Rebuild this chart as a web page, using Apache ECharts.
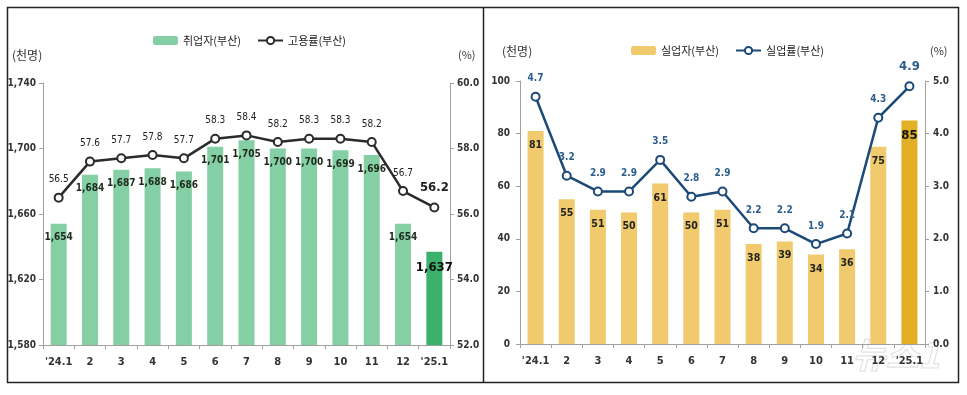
<!DOCTYPE html>
<html><head><meta charset="utf-8">
<script src="https://cdn.jsdelivr.net/npm/echarts@6/dist/echarts.min.js"></script>
<style>html,body{margin:0;padding:0;background:#fff}#c{width:967px;height:395px}</style>
</head><body><div id="c"></div>
<script>
const categories = ["'24.1","2","3","4","5","6","7","8","9","10","11","12","'25.1"];
const employed = [1654,1684,1687,1688,1686,1701,1705,1700,1700,1699,1696,1654,1637];
const employmentRate = [56.5,57.6,57.7,57.8,57.7,58.3,58.4,58.2,58.3,58.3,58.2,56.7,56.2];
const unemployed = [81,55,51,50,61,50,51,38,39,34,36,75,85];
const unemploymentRate = [4.7,3.2,2.9,2.9,3.5,2.8,2.9,2.2,2.2,1.9,2.1,4.3,4.9];

const FONT = "'DejaVu Sans Condensed','Noto Sans CJK KR',sans-serif";
const KFONT = "'Noto Sans CJK KR',sans-serif";
const last = categories.length - 1;
const fmtComma = v => String(v).replace(/\B(?=(\d{3})+(?!\d))/g, ',');

const greenBar = '#84cfa3', greenLast = '#3bb26c';
const yellowBar = '#f0ca6c', yellowLast = '#e2b024';
const blueLine = '#1b4a78', blueLabel = '#2c5d8c';

function barData(vals, cl, fmt) {
  return vals.map((v, i) => i === last ? {
    value: v, itemStyle: {color: cl},
    label: {fontSize: 13, fontWeight: 'bold', distance: 9, formatter: p => fmt(p.value), color: '#111'}
  } : v);
}
function lineData(vals, color) {
  return vals.map((v, i) => i === last ? {
    value: v, label: {fontSize: 13, fontWeight: 'bold', color: color}
  } : v);
}
const axisLabelStyle = {fontFamily: FONT, fontSize: 10, color: '#333', fontWeight: 'bold'};
const xLabelStyle = {fontFamily: FONT, fontSize: 11, color: '#333', fontWeight: 'bold'};
const axisLineStyle = {show: true, lineStyle: {color: '#a0a0a0', width: 1}};
const tick = {show: true, length: 4, lineStyle: {color: '#a0a0a0'}};

const option = {
  backgroundColor: '#fff',
  animation: false,
  textStyle: {fontFamily: FONT},
  graphic: [
    {type: 'rect', shape: {x: 7.5, y: 7.5, width: 951, height: 375}, style: {fill: 'none', stroke: '#222', lineWidth: 1.5}},
    {type: 'line', shape: {x1: 483.5, y1: 7.5, x2: 483.5, y2: 382.5}, style: {stroke: '#222', lineWidth: 1.5}},
    {type: 'text', left: 12, top: 49, style: {text: '(천명)', font: "12px 'Noto Sans CJK KR'", fill: '#333'}},
    {type: 'text', left: 458, top: 49, style: {text: '(%)', font: "11px 'Noto Sans CJK KR'", fill: '#333'}},
    {type: 'text', left: 502, top: 45, style: {text: '(천명)', font: "12px 'Noto Sans CJK KR'", fill: '#333'}},
    {type: 'text', left: 930, top: 45, style: {text: '(%)', font: "11px 'Noto Sans CJK KR'", fill: '#333'}},
    {type: 'text', left: 852, top: 336, style: {text: '뉴스1', font: "italic bold 36px 'Noto Sans CJK KR'", fill: 'rgba(255,255,255,0)', stroke: 'rgba(190,190,190,0.45)', lineWidth: 1.2}}
  ],
  legend: [
    {data: [{name: '취업자(부산)', itemStyle: {color: greenBar}}, '고용률(부산)'], left: 148, top: 30, itemWidth: 25, itemHeight: 9, itemGap: 16,
     textStyle: {fontFamily: KFONT, fontSize: 11, color: '#222'}},
    {data: [{name: '실업자(부산)', itemStyle: {color: yellowBar}}, '실업률(부산)'], left: 626, top: 40, itemWidth: 25, itemHeight: 9, itemGap: 16,
     textStyle: {fontFamily: KFONT, fontSize: 11, color: '#222'}}
  ],
  grid: [
    {left: 43, right: 517, top: 83, bottom: 50},
    {left: 520, right: 42, top: 81, bottom: 51}
  ],
  xAxis: [
    {type: 'category', gridIndex: 0, data: categories, axisLine: axisLineStyle, axisTick: tick,
     axisLabel: Object.assign({margin: 12, interval: 0}, xLabelStyle)},
    {type: 'category', gridIndex: 1, data: categories, axisLine: axisLineStyle, axisTick: tick,
     axisLabel: Object.assign({margin: 12, interval: 0}, xLabelStyle)}
  ],
  yAxis: [
    {type: 'value', gridIndex: 0, min: 1580, max: 1740, interval: 40, splitLine: {show: false}, axisLine: axisLineStyle, axisTick: tick,
     axisLabel: Object.assign({margin: 7, formatter: fmtComma}, axisLabelStyle)},
    {type: 'value', gridIndex: 0, position: 'right', min: 52, max: 60, interval: 2, splitLine: {show: false}, axisLine: axisLineStyle, axisTick: tick,
     axisLabel: Object.assign({margin: 7, formatter: v => v.toFixed(1)}, axisLabelStyle)},
    {type: 'value', gridIndex: 1, min: 0, max: 100, interval: 20, splitLine: {show: false}, axisLine: axisLineStyle, axisTick: tick,
     axisLabel: Object.assign({margin: 10}, axisLabelStyle)},
    {type: 'value', gridIndex: 1, position: 'right', min: 0, max: 5, interval: 1, splitLine: {show: false}, axisLine: axisLineStyle, axisTick: tick,
     axisLabel: Object.assign({margin: 8, formatter: v => v.toFixed(1)}, axisLabelStyle)}
  ],
  series: [
    {name: '취업자(부산)', type: 'bar', xAxisIndex: 0, yAxisIndex: 0, barWidth: 16, itemStyle: {color: greenBar},
     data: barData(employed, greenLast, fmtComma),
     label: {show: true, position: 'insideTop', distance: 9, color: '#1d2a1d', fontSize: 10, fontWeight: 'bold', fontFamily: FONT,
             formatter: p => fmtComma(p.value)}},
    {name: '고용률(부산)', type: 'line', xAxisIndex: 0, yAxisIndex: 1, symbol: 'circle', symbolSize: 8,
     lineStyle: {color: '#2b2b2b', width: 2.5}, itemStyle: {color: '#fff', borderColor: '#2b2b2b', borderWidth: 2},
     data: lineData(employmentRate, '#222'),
     label: {show: true, position: 'top', distance: 8, color: '#222', fontSize: 10, fontFamily: FONT, formatter: p => p.value.toFixed(1)}},
    {name: '실업자(부산)', type: 'bar', xAxisIndex: 1, yAxisIndex: 2, barWidth: 16, itemStyle: {color: yellowBar},
     data: barData(unemployed, yellowLast, v => String(v)),
     label: {show: true, position: 'insideTop', distance: 9, color: '#222', fontSize: 10.5, fontWeight: 'bold', fontFamily: FONT}},
    {name: '실업률(부산)', type: 'line', xAxisIndex: 1, yAxisIndex: 3, symbol: 'circle', symbolSize: 8,
     lineStyle: {color: blueLine, width: 2.5}, itemStyle: {color: '#fff', borderColor: blueLine, borderWidth: 2},
     data: lineData(unemploymentRate, blueLabel),
     label: {show: true, position: 'top', distance: 8, color: blueLabel, fontSize: 10, fontWeight: 'bold', fontFamily: FONT, formatter: p => p.value.toFixed(1)}}
  ]
};
const chart = echarts.init(document.getElementById('c'), null, {renderer: 'canvas'});
chart.setOption(option);
</script></body></html>
